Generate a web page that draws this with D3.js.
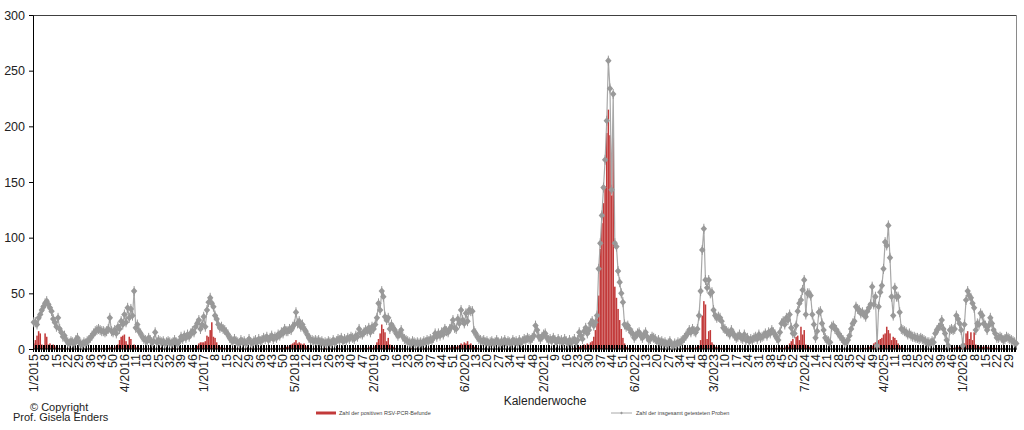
<!DOCTYPE html>
<html>
<head>
<meta charset="utf-8">
<script src="https://cdn.jsdelivr.net/npm/d3@7"></script>
<style>
  body { margin: 0; background: #fff; }
  svg { display: block; font-family: "Liberation Sans", Arial, sans-serif; }
</style>
</head>
<body>
<div id="chart"></div>
<script>
// Kalenderwochen 1/2015 bis 34/2026
const years = [2015, 2016, 2017, 2018, 2019, 2020, 2021, 2022, 2023, 2024, 2025, 2026];
const weeksPerYear = [53, 52, 52, 52, 52, 53, 52, 52, 52, 52, 52, 34];
const yTicks = [0, 50, 100, 150, 200, 250, 300];

// Zahl der insgesamt getesteten Proben (pro Woche)
const tests2015 = [24, 24, 22, 28, 31, 35, 38, 41, 43, 40, 37, 34, 27, 24, 20, 28, 18, 15, 11, 12,
  8, 6, 5, 7, 6, 5, 8, 10, 6, 5, 4, 6, 5, 7, 8, 10, 12, 14, 16, 17,
  18, 17, 16, 16, 15, 16, 18, 28, 16, 15, 17, 14, 20];
const tests2016 = [18, 25, 22, 31, 24, 37, 28, 36, 30, 52, 19, 22, 16, 14, 11, 9, 8, 7, 10, 8,
  6, 7, 15, 6, 8, 7, 6, 7, 5, 6, 7, 6, 5, 6, 8, 6, 5, 7, 11, 9,
  12, 10, 13, 11, 14, 16, 15, 20, 23, 26, 18, 22];
const tests2017 = [29, 20, 35, 42, 46, 41, 38, 30, 27, 22, 19, 20, 18, 17, 15, 13, 10, 8, 7, 9,
  7, 6, 5, 8, 6, 7, 5, 6, 9, 6, 5, 7, 8, 6, 9, 7, 8, 10, 9, 11,
  8, 10, 12, 9, 11, 10, 13, 12, 15, 14, 18, 16];
const tests2018 = [16, 18, 17, 20, 22, 33, 23, 25, 20, 22, 18, 16, 13, 10, 8, 8, 7, 8, 7, 8,
  6, 7, 5, 6, 5, 7, 6, 5, 8, 6, 7, 9, 8, 10, 7, 9, 8, 10, 9, 11,
  10, 9, 12, 11, 18, 14, 13, 15, 17, 16, 19, 15];
const tests2019 = [20, 18, 22, 28, 41, 35, 52, 47, 29, 26, 28, 18, 22, 19, 17, 14, 12, 14, 17, 11,
  9, 8, 7, 6, 5, 7, 6, 5, 6, 5, 6, 5, 7, 6, 8, 7, 9, 8, 10, 14,
  11, 14, 12, 15, 13, 18, 16, 15, 18, 20, 26, 19];
const tests2020 = [18, 27, 23, 35, 26, 23, 32, 25, 35, 34, 34, 16, 14, 11, 9, 8, 7, 8, 6, 7,
  5, 6, 7, 5, 6, 8, 6, 5, 7, 6, 8, 5, 7, 6, 5, 8, 6, 7, 5, 8,
  6, 7, 9, 8, 10, 9, 8, 10, 12, 21, 17, 11, 9];
const tests2021 = [11, 13, 14, 10, 8, 9, 7, 10, 8, 6, 9, 7, 8, 6, 9, 7, 5, 8, 6, 7,
  9, 6, 8, 15, 12, 9, 16, 19, 14, 17, 23, 25, 21, 24, 30, 72, 95, 120, 145, 170,
  205, 259, 234, 143, 229, 95, 92, 70, 60, 50, 42, 22];
const tests2022 = [20, 21, 18, 15, 14, 10, 12, 14, 15, 12, 10, 13, 15, 11, 8, 9, 11, 10, 9, 7,
  8, 6, 7, 5, 6, 4, 5, 7, 4, 3, 5, 4, 6, 5, 7, 8, 10, 12, 14, 17,
  15, 18, 16, 15, 18, 30, 52, 89, 108, 62, 55, 62];
const tests2023 = [50, 51, 35, 30, 28, 29, 28, 25, 19, 18, 16, 15, 13, 17, 14, 12, 10, 11, 13, 10,
  9, 13, 8, 10, 7, 9, 8, 10, 11, 9, 13, 10, 11, 12, 14, 12, 15, 14, 17, 15,
  13, 10, 8, 15, 23, 25, 22, 28, 26, 31, 19, 14];
const tests2024 = [14, 21, 34, 41, 44, 53, 62, 31, 50, 50, 48, 31, 22, 10, 16, 33, 34, 23, 17, 10,
  8, 7, 6, 20, 21, 18, 17, 14, 12, 10, 8, 6, 6, 8, 12, 18, 23, 25, 38, 36,
  35, 32, 33, 31, 29, 34, 37, 40, 56, 40, 47, 3];
const tests2025 = [38, 51, 57, 72, 96, 93, 111, 82, 47, 30, 55, 47, 47, 33, 18, 17, 16, 15, 13, 14,
  12, 11, 11, 10, 10, 9, 10, 9, 8, 7, 6, 6, 5, 7, 6, 14, 17, 19, 21, 26,
  18, 14, 8, 3, 17, 18, 17, 18, 30, 27, 23, 17];
const tests2026 = [3, 22, 44, 52, 48, 46, 41, 37, 17, 23, 22, 32, 30, 23, 21, 17, 21, 28, 23, 17,
  14, 10, 10, 11, 10, 8, 9, 11, 10, 9, 8, 7, 6, 5];

// Zahl der positiven RSV-PCR-Befunde (pro Woche)
const pos2015 = [5, 8, 12, 16, 14, 4, 3, 14, 11, 4, 5, 3, 4, 2, 3, 1, 1, 0, 1, 0,
  0, 1, 0, 0, 1, 0, 0, 1, 0, 0, 0, 0, 1, 0, 0, 1, 0, 0, 1, 0,
  1, 0, 1, 1, 0, 1, 1, 2, 1, 1, 2, 3, 4];
const pos2016 = [8, 11, 12, 13, 7, 4, 11, 9, 3, 4, 2, 1, 1, 1, 0, 1, 0, 0, 1, 0,
  0, 1, 0, 0, 0, 1, 0, 0, 0, 1, 0, 0, 0, 1, 0, 0, 1, 0, 0, 1,
  0, 1, 0, 1, 1, 0, 1, 1, 3, 5, 6, 6];
const pos2017 = [6, 7, 12, 11, 17, 24, 11, 10, 6, 3, 2, 1, 1, 1, 0, 1, 0, 0, 1, 0,
  0, 0, 1, 0, 0, 0, 1, 0, 0, 0, 1, 0, 0, 0, 1, 0, 0, 1, 0, 0,
  1, 0, 0, 1, 0, 1, 0, 1, 1, 1, 2, 2];
const pos2018 = [2, 3, 4, 5, 6, 8, 5, 6, 5, 4, 5, 3, 2, 1, 1, 0, 1, 0, 0, 1,
  0, 0, 0, 1, 0, 0, 0, 1, 0, 0, 0, 1, 0, 0, 0, 1, 0, 0, 1, 0,
  0, 1, 0, 1, 1, 0, 1, 1, 1, 1, 2, 2];
const pos2019 = [1, 2, 3, 6, 9, 14, 22, 18, 15, 7, 10, 4, 3, 2, 1, 1, 0, 1, 0, 0,
  1, 0, 0, 0, 1, 0, 0, 0, 1, 0, 0, 0, 1, 0, 0, 1, 0, 0, 1, 0,
  1, 0, 1, 1, 0, 1, 1, 1, 2, 1, 2, 3];
const pos2020 = [2, 3, 3, 5, 4, 6, 5, 7, 4, 5, 3, 2, 1, 1, 0, 0, 0, 0, 0, 0,
  0, 0, 0, 0, 0, 0, 0, 0, 0, 0, 0, 0, 0, 0, 0, 0, 0, 0, 0, 0,
  0, 0, 0, 0, 0, 0, 0, 0, 0, 0, 0, 0, 0];
const pos2021 = [0, 0, 0, 0, 0, 0, 0, 0, 0, 0, 0, 0, 0, 0, 0, 0, 0, 0, 0, 1,
  0, 1, 1, 2, 3, 2, 4, 3, 5, 4, 6, 7, 11, 17, 27, 48, 90, 113, 131, 146,
  194, 215, 192, 138, 190, 56, 46, 36, 26, 18, 10, 5];
const pos2022 = [2, 1, 1, 1, 0, 1, 0, 0, 1, 0, 0, 1, 0, 0, 0, 0, 1, 0, 0, 0,
  0, 0, 0, 0, 0, 0, 0, 0, 0, 0, 0, 0, 0, 0, 0, 1, 0, 1, 1, 1,
  1, 2, 1, 2, 2, 3, 8, 30, 43, 40, 9, 16];
const pos2023 = [17, 6, 4, 2, 2, 1, 1, 0, 1, 0, 0, 1, 0, 0, 0, 0, 0, 1, 0, 0,
  0, 0, 0, 0, 0, 0, 0, 0, 0, 0, 0, 0, 0, 0, 0, 1, 0, 0, 1, 0,
  1, 0, 1, 1, 2, 1, 2, 3, 2, 5, 7, 9];
const pos2024 = [4, 11, 12, 8, 20, 13, 17, 4, 3, 2, 1, 1, 0, 1, 0, 1, 0, 0, 0, 0,
  0, 0, 0, 0, 0, 0, 0, 0, 0, 0, 0, 0, 0, 0, 0, 1, 0, 0, 1, 0,
  0, 1, 0, 1, 1, 1, 2, 2, 3, 5, 6, 3];
const pos2025 = [8, 9, 10, 13, 14, 20, 17, 14, 8, 11, 10, 8, 5, 3, 2, 1, 1, 0, 1, 0,
  0, 0, 0, 0, 0, 0, 0, 0, 0, 0, 0, 0, 0, 0, 0, 0, 1, 0, 0, 1,
  0, 0, 1, 0, 1, 1, 1, 2, 1, 2, 2, 3];
const pos2026 = [3, 5, 14, 16, 9, 15, 8, 15, 4, 3, 2, 3, 2, 2, 3, 2, 1, 2, 1, 1,
  1, 0, 1, 0, 0, 1, 0, 0, 0, 0, 0, 0, 0, 0];

const tests = [].concat(tests2015, tests2016, tests2017, tests2018, tests2019, tests2020,
  tests2021, tests2022, tests2023, tests2024, tests2025, tests2026);
const positives = [].concat(pos2015, pos2016, pos2017, pos2018, pos2019, pos2020,
  pos2021, pos2022, pos2023, pos2024, pos2025, pos2026);

// Build the category list (year, week)
const weeks = [];
years.forEach((year, k) => {
  for (let w = 1; w <= weeksPerYear[k]; w++) weeks.push({ year, week: w });
});
const data = weeks.map((d, i) => ({ ...d, i, tests: tests[i], positives: positives[i] }));

const width = 1024;
const height = 430;
const margin = { top: 15, right: 7, bottom: 81, left: 33 };
const red = "#c23a3a";
const grey = "#a8a8a8";
const markerGrey = "#999999";

const svg = d3.select("#chart")
  .append("svg")
  .attr("width", width)
  .attr("height", height);

const x = d3.scaleBand()
  .domain(data.map(d => d.i))
  .range([margin.left, width - margin.right])
  .paddingInner(0.05);

const y = d3.scaleLinear()
  .domain([0, 300])
  .range([height - margin.bottom, margin.top]);

const cx = i => x(i) + x.bandwidth() / 2;
const y0 = y(0);

// Columns: positive results
svg.append("g")
  .selectAll("rect")
  .data(data.filter(d => d.positives > 0))
  .enter()
  .append("rect")
  .attr("x", d => x(d.i))
  .attr("width", x.bandwidth())
  .attr("y", d => y(d.positives))
  .attr("height", d => y0 - y(d.positives))
  .attr("fill", red);

// Plot frame
svg.append("line")
  .attr("x1", margin.left).attr("x2", width - margin.right)
  .attr("y1", margin.top + 0.5).attr("y2", margin.top + 0.5)
  .attr("stroke", "#404040");
svg.append("line")
  .attr("x1", width - margin.right - 0.5).attr("x2", width - margin.right - 0.5)
  .attr("y1", margin.top).attr("y2", y0)
  .attr("stroke", "#8a8a8a");

// Y axis
const yAxis = svg.append("g")
  .attr("transform", `translate(${margin.left},0)`)
  .call(d3.axisLeft(y).tickValues(yTicks).tickSize(4).tickSizeOuter(0).tickPadding(4));
yAxis.select(".domain").attr("stroke", "#000");
yAxis.selectAll(".tick line").attr("stroke", "#000");
yAxis.selectAll(".tick text")
  .style("font-size", "12.5px")
  .attr("fill", "#222");

// Category ticks (one per week, crossing the axis)
svg.append("g")
  .selectAll("line")
  .data(data)
  .enter()
  .append("line")
  .attr("x1", d => Math.round(x(d.i)) + 0.5)
  .attr("x2", d => Math.round(x(d.i)) + 0.5)
  .attr("y1", y0 - 4)
  .attr("y2", y0 + 3)
  .attr("stroke", "#000")
  .attr("stroke-width", 1)
  .attr("shape-rendering", "crispEdges");

svg.append("line")
  .attr("x1", margin.left).attr("x2", width - margin.right)
  .attr("y1", y0).attr("y2", y0)
  .attr("stroke", "#000");

// Category labels every 7 weeks
const labelled = data.filter(d => d.i % 7 === 0);
const seenYear = new Set();
labelled.forEach(d => {
  d.label = seenYear.has(d.year) ? String(d.week) : `${d.week}/${d.year}`;
  seenYear.add(d.year);
});

svg.append("g")
  .selectAll("text")
  .data(labelled)
  .enter()
  .append("text")
  .attr("transform", d => `translate(${cx(d.i)},${y0 + 5}) rotate(-90)`)
  .attr("dy", "0.35em")
  .attr("text-anchor", "end")
  .style("font-size", "12.5px")
  .attr("fill", "#222")
  .text(d => d.label);

// Line: tested samples
const line = d3.line()
  .x(d => cx(d.i))
  .y(d => y(d.tests));

svg.append("path")
  .datum(data)
  .attr("d", line)
  .attr("fill", "none")
  .attr("stroke", grey)
  .attr("stroke-width", 1.2);

const marker = "M0,-3.6L3.2,0L0,3.6L-3.2,0Z";
const markers = svg.append("g")
  .selectAll("g")
  .data(data)
  .enter()
  .append("g")
  .attr("transform", d => `translate(${cx(d.i)},${y(d.tests)})`);
markers.append("path")
  .attr("d", marker)
  .attr("fill", markerGrey);
markers.append("line")
  .attr("y1", -5).attr("y2", 5)
  .attr("stroke", markerGrey);

// Axis title
svg.append("text")
  .attr("x", 545)
  .attr("y", 405)
  .attr("text-anchor", "middle")
  .style("font-size", "12px")
  .attr("fill", "#222")
  .text("Kalenderwoche");

// Legend
const legend = svg.append("g").style("font-size", "5.5px").attr("fill", "#444");
legend.append("line")
  .attr("x1", 316).attr("x2", 336).attr("y1", 413).attr("y2", 413)
  .attr("stroke", red).attr("stroke-width", 3);
legend.append("text").attr("x", 339).attr("y", 415).text("Zahl der positiven RSV-PCR-Befunde");
legend.append("line")
  .attr("x1", 611).attr("x2", 632).attr("y1", 413).attr("y2", 413)
  .attr("stroke", grey).attr("stroke-width", 1);
legend.append("path")
  .attr("d", "M0,-1.6L1.4,0L0,1.6L-1.4,0Z")
  .attr("transform", "translate(621.5,413)")
  .attr("fill", markerGrey);
legend.append("text").attr("x", 636).attr("y", 415).text("Zahl der insgesamt getesteten Proben");

// Copyright note
svg.append("text")
  .attr("x", 30).attr("y", 411)
  .style("font-size", "11px").attr("fill", "#222")
  .text("© Copyright");
svg.append("text")
  .attr("x", 13).attr("y", 421)
  .style("font-size", "11px").attr("fill", "#222")
  .text("Prof. Gisela Enders");
</script>
</body>
</html>
